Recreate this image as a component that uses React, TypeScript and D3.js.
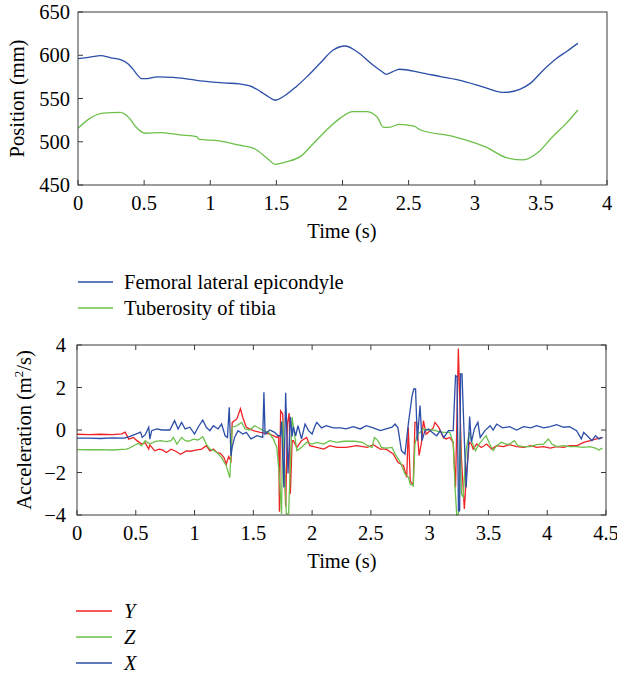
import React from "react";
import * as d3 from "d3";

type P = [number, number];

// ---------- Top chart data (time s, position mm) ----------
const femoral: P[] = [
  [0, 596], [0.05, 597], [0.1, 598], [0.17, 599.5], [0.25, 597], [0.32, 595], [0.38, 590],
  [0.42, 583], [0.45, 577], [0.48, 573], [0.52, 573], [0.6, 575], [0.72, 574.5], [0.85, 572],
  [0.95, 570], [1.1, 568], [1.22, 567], [1.3, 564.5], [1.38, 558], [1.44, 552], [1.49, 548],
  [1.55, 552], [1.65, 563.7], [1.73, 575], [1.83, 590.7], [1.93, 606], [2.02, 610.7],
  [2.11, 604], [2.23, 588.7], [2.3, 581], [2.33, 578], [2.38, 581], [2.43, 583.8], [2.59, 580],
  [2.75, 575], [2.89, 571], [3.09, 562], [3.22, 557], [3.34, 560.6], [3.42, 567.5], [3.52, 583],
  [3.62, 596.5], [3.7, 605], [3.78, 613.8],
];
const tibia: P[] = [
  [0, 515.5], [0.09, 527], [0.19, 533], [0.32, 534], [0.39, 527], [0.44, 516.7], [0.51, 509.8],
  [0.62, 510.5], [0.77, 508], [0.9, 506], [0.91, 503], [1.07, 501], [1.22, 496], [1.33, 492.4],
  [1.43, 481], [1.49, 474], [1.58, 477], [1.68, 482.8], [1.78, 498], [1.88, 513.6], [1.98, 527],
  [2.08, 534.8], [2.18, 534.8], [2.26, 529], [2.31, 516.7], [2.36, 517], [2.43, 520], [2.54, 518],
  [2.59, 513.6], [2.84, 506], [3.09, 493.5], [3.24, 481.6], [3.37, 479], [3.47, 486.6],
  [3.59, 506], [3.69, 521], [3.78, 536.7],
];
const topXTicks = [0, 0.5, 1, 1.5, 2, 2.5, 3, 3.5, 4];
const topYTicks = [450, 500, 550, 600, 650];

// ---------- Bottom chart data (time s, acceleration) ----------
const accY: P[] = [
  [0, -0.2], [0.1, -0.22], [0.2, -0.2], [0.3, -0.22], [0.38, -0.18], [0.41, -0.1], [0.44, -0.43],
  [0.48, -0.35], [0.51, -0.5], [0.55, -0.66], [0.58, -0.6], [0.61, -0.9], [0.62, -0.7], [0.66, -0.98],
  [0.7, -0.9], [0.73, -0.95], [0.76, -1.06], [0.8, -0.9], [0.84, -1.0], [0.88, -1.14], [0.93, -0.98],
  [0.97, -1.0], [1.01, -0.95], [1.06, -0.9], [1.1, -0.74], [1.13, -0.98], [1.16, -0.9], [1.19, -1.06],
  [1.22, -1.1], [1.25, -1.3], [1.27, -1.6], [1.29, -1.25], [1.31, -1.45], [1.32, 0.36], [1.36, 0.52],
  [1.39, 1.0], [1.41, 0.6], [1.44, 0.13], [1.5, -0.03], [1.56, -0.11], [1.64, -0.19], [1.7, -0.35],
  [1.715, -0.3], [1.722, -3.85], [1.732, 0.9], [1.75, 0.75], [1.762, -1.3], [1.775, -3.6], [1.79, 0.3],
  [1.805, 0.8], [1.815, -3.0], [1.83, -0.5], [1.84, -0.5], [1.87, -0.82], [1.91, -0.5], [1.954, -0.35],
  [1.98, -0.74], [2.04, -0.82], [2.1, -0.9], [2.15, -0.74], [2.21, -0.82], [2.29, -0.82], [2.38, -0.74],
  [2.47, -0.82], [2.52, -0.69], [2.58, -0.9], [2.63, -0.9], [2.69, -1.13], [2.73, -1.52], [2.777, -1.68],
  [2.805, -2.23], [2.818, 0.13], [2.835, -2.4], [2.86, -2.6], [2.875, 0.36], [2.89, 0.36], [2.91, -1.2],
  [2.93, -0.6], [2.947, 0.44], [2.97, -0.2], [3.0, -0.05], [3.03, 0.1], [3.045, 0.36], [3.08, 0.1],
  [3.116, -0.35], [3.14, -0.42], [3.17, -0.35], [3.2, -0.58], [3.22, -2.7], [3.244, 3.84], [3.27, -1.29],
  [3.295, -3.72], [3.315, -1.9], [3.337, -0.58], [3.355, -0.66], [3.37, -0.9], [3.4, -0.66], [3.44, -0.82],
  [3.485, -0.66], [3.527, -0.9], [3.57, -0.74], [3.627, -0.78], [3.68, -0.69], [3.74, -0.78], [3.8, -0.82],
  [3.86, -0.74], [3.91, -0.82], [3.97, -0.78], [4.025, -0.85], [4.08, -0.78], [4.14, -0.82], [4.19, -0.74],
  [4.25, -0.74], [4.31, -0.58], [4.365, -0.5], [4.42, -0.42], [4.47, -0.35],
];
const accZ: P[] = [
  [0, -0.92], [0.1, -0.93], [0.2, -0.92], [0.3, -0.94], [0.42, -0.9], [0.44, -0.87], [0.48, -0.74],
  [0.52, -0.63], [0.55, -0.74], [0.58, -0.5], [0.62, -0.66], [0.66, -0.55], [0.71, -0.5], [0.76, -0.55],
  [0.8, -0.5], [0.82, -0.35], [0.85, -0.66], [0.89, -0.35], [0.92, -0.5], [0.95, -0.53], [0.99, -0.43],
  [1.03, -0.47], [1.07, -0.32], [1.1, -0.66], [1.13, -0.9], [1.16, -0.95], [1.19, -1.06], [1.23, -1.3],
  [1.27, -1.69], [1.3, -2.24], [1.32, 0.13], [1.36, 0.2], [1.4, 0.36], [1.43, 0.05], [1.47, 0.0],
  [1.51, 0.2], [1.54, 0.12], [1.585, -0.03], [1.63, -0.11], [1.67, -0.42], [1.7, -0.82], [1.72, -2.07],
  [1.74, -3.95], [1.75, 0.44], [1.762, -0.97], [1.78, -3.95], [1.8, -3.95], [1.83, 0.6], [1.845, 0.0],
  [1.87, -0.97], [1.91, -0.82], [1.954, -0.58], [2.0, -0.66], [2.04, -0.58], [2.1, -0.66], [2.15, -0.5],
  [2.21, -0.58], [2.27, -0.53], [2.36, -0.53], [2.43, -0.58], [2.47, -0.74], [2.51, -0.82], [2.53, -0.35],
  [2.56, -0.5], [2.59, -0.82], [2.63, -0.85], [2.68, -0.82], [2.706, -1.13], [2.75, -1.52], [2.79, -2.07],
  [2.82, -2.23], [2.834, -2.54], [2.86, -2.62], [2.875, -0.66], [2.895, -0.2], [2.92, -0.11], [2.947, 0.05],
  [2.99, 0.0], [3.03, 0.0], [3.074, -0.06], [3.116, -0.11], [3.17, -0.11], [3.2, -0.58], [3.216, -2.7],
  [3.23, -4.0], [3.245, -3.95], [3.26, 0.05], [3.27, -3.0], [3.285, -3.15], [3.31, -0.97], [3.337, -0.11],
  [3.355, -0.5], [3.39, -0.97], [3.42, -0.66], [3.456, -0.42], [3.48, -0.27], [3.51, -0.66], [3.54, -0.97],
  [3.57, -0.74], [3.61, -0.58], [3.65, -0.66], [3.68, -0.66], [3.72, -0.5], [3.75, -0.74], [3.8, -0.78],
  [3.86, -0.78], [3.91, -0.69], [3.97, -0.66], [4.01, -0.42], [4.04, -0.66], [4.08, -0.78], [4.14, -0.74],
  [4.19, -0.78], [4.25, -0.78], [4.31, -0.82], [4.36, -0.78], [4.41, -0.85], [4.44, -0.94], [4.47, -0.85],
];
const accX: P[] = [
  [0, -0.38], [0.1, -0.38], [0.2, -0.4], [0.3, -0.37], [0.4, -0.38], [0.44, -0.32], [0.5, -0.19],
  [0.54, -0.1], [0.555, -0.35], [0.58, -0.22], [0.61, 0.13], [0.62, -0.43], [0.635, -0.03], [0.68, 0.05],
  [0.72, 0.0], [0.79, 0.0], [0.83, 0.44], [0.86, 0.05], [0.89, 0.36], [0.92, 0.05], [0.96, 0.13],
  [1.0, -0.19], [1.03, 0.13], [1.07, 0.47], [1.1, 0.13], [1.13, -0.03], [1.16, 0.2], [1.2, 0.05],
  [1.23, 0.28], [1.26, -0.27], [1.28, -0.35], [1.295, 1.07], [1.31, -1.22], [1.32, -0.82], [1.34, -0.35],
  [1.37, -0.03], [1.41, -0.19], [1.44, -0.11], [1.48, -0.42], [1.53, -0.27], [1.58, -0.35], [1.59, 1.77],
  [1.6, -0.19], [1.64, 0.0], [1.68, -0.11], [1.71, -0.27], [1.73, -0.27], [1.74, 0.4], [1.76, -2.7],
  [1.775, 1.75], [1.795, -2.05], [1.815, 0.62], [1.83, -0.3], [1.84, 0.16], [1.86, -0.27], [1.88, 0.2],
  [1.91, -0.42], [1.94, 0.28], [1.97, -0.03], [2.0, -0.19], [2.025, 0.2], [2.04, 0.36], [2.08, 0.1],
  [2.12, 0.2], [2.18, 0.1], [2.24, 0.1], [2.29, 0.05], [2.35, 0.16], [2.41, 0.05], [2.46, 0.2], [2.52, 0.1],
  [2.58, -0.03], [2.63, 0.05], [2.68, 0.13], [2.706, 0.28], [2.73, 0.1], [2.76, -0.97], [2.79, -1.13],
  [2.82, 0.36], [2.85, 1.6], [2.865, 1.93], [2.88, 1.93], [2.895, -0.5], [2.918, 1.15], [2.935, -0.5],
  [2.96, -0.03], [2.99, 0.05], [3.02, -0.11], [3.06, -0.27], [3.09, -0.03], [3.12, -0.35], [3.16, -0.03],
  [3.2, -0.03], [3.22, 2.56], [3.233, 2.5], [3.245, -3.8], [3.255, -3.8], [3.263, 2.64], [3.275, 2.64],
  [3.29, 0.28], [3.31, -2.7], [3.325, -1.3], [3.34, 0.63], [3.355, -0.58], [3.38, 0.05], [3.41, 0.36],
  [3.43, -0.35], [3.47, -0.03], [3.515, 0.2], [3.54, 0.0], [3.57, 0.28], [3.62, 0.1], [3.68, 0.16],
  [3.74, 0.0], [3.8, 0.16], [3.86, 0.1], [3.91, 0.2], [3.97, 0.1], [4.025, 0.16], [4.08, 0.25],
  [4.14, 0.13], [4.19, 0.16], [4.25, -0.03], [4.29, -0.42], [4.31, -0.11], [4.34, -0.27], [4.38, -0.5],
  [4.41, -0.27], [4.44, -0.42], [4.47, -0.35],
];
const botXTicks = [0, 0.5, 1, 1.5, 2, 2.5, 3, 3.5, 4, 4.5];
const botYTicks = [-4, -2, 0, 2, 4];

const topLegend = ["Femoral lateral epicondyle", "Tuberosity of tibia"];
const botLegend = ["Y", "Z", "X"];

const BLUE = "#2b4ea8";
const GREEN = "#6cc04a";
const RED = "#ee2326";
const AXIS = "#3a3a3a";
const FONT = '"Liberation Serif", "DejaVu Serif", "Times New Roman", serif';
const FS = 20.5;

const fmt = (v: number) => (v < 0 ? "\u2212" + Math.abs(v) : String(v));

export default function App() {
  // top chart scales
  const tx = d3.scaleLinear().domain([0, 4]).range([78, 607]);
  const ty = d3.scaleLinear().domain([450, 650]).range([185, 12]);
  // bottom chart scales
  const bx = d3.scaleLinear().domain([0, 4.5]).range([77, 606]);
  const by = d3.scaleLinear().domain([-4, 4]).range([515, 345]);

  const topLine = d3.line<P>().x((d) => tx(d[0])).y((d) => ty(d[1])).curve(d3.curveMonotoneX);
  const botLine = d3.line<P>().x((d) => bx(d[0])).y((d) => by(d[1]));
  const TL = 5;

  return (
    <svg
      width={617}
      height={676}
      style={{ position: "absolute", left: 0, top: 0, background: "#fff", fontFamily: FONT, fontSize: FS }}
    >
      <defs>
        <clipPath id="clipTop">
          <rect x={78} y={12} width={529} height={173} />
        </clipPath>
        <clipPath id="clipBot">
          <rect x={77} y={344} width={529} height={172} />
        </clipPath>
      </defs>

      {/* ----- Top chart ----- */}
      <g>
        <path d={topLine(femoral)!} fill="none" stroke={BLUE} strokeWidth={1.3} clipPath="url(#clipTop)" />
        <path d={topLine(tibia)!} fill="none" stroke={GREEN} strokeWidth={1.3} clipPath="url(#clipTop)" />
        <rect x={78} y={12} width={529} height={173} fill="none" stroke={AXIS} strokeWidth={1} />
        {topXTicks.map((t) => (
          <g key={"tx" + t}>
            <line x1={tx(t)} x2={tx(t)} y1={185} y2={185 - TL} stroke={AXIS} />
            <text x={tx(t)} y={210} textAnchor="middle">{fmt(t)}</text>
          </g>
        ))}
        {topYTicks.map((v) => (
          <g key={"ty" + v}>
            <line x1={78} x2={78 + TL} y1={ty(v)} y2={ty(v)} stroke={AXIS} />
            <text x={70} y={ty(v) + 7} textAnchor="end">{v}</text>
          </g>
        ))}
        <text x={342} y={238} textAnchor="middle">Time (s)</text>
        <text transform={`translate(24,${(12 + 185) / 2}) rotate(-90)`} textAnchor="middle">Position (mm)</text>
      </g>

      {/* ----- Top legend ----- */}
      {topLegend.map((name, i) => (
        <g key={name}>
          <line x1={78} x2={113} y1={282 + i * 26} y2={282 + i * 26} stroke={i === 0 ? BLUE : GREEN} strokeWidth={1.3} />
          <text x={124} y={289 + i * 26}>{name}</text>
        </g>
      ))}

      {/* ----- Bottom chart ----- */}
      <g>
        <g clipPath="url(#clipBot)">
          <path d={botLine(accY)!} fill="none" stroke={RED} strokeWidth={1.3} />
          <path d={botLine(accZ)!} fill="none" stroke={GREEN} strokeWidth={1.3} />
          <path d={botLine(accX)!} fill="none" stroke={BLUE} strokeWidth={1.3} />
        </g>
        <rect x={77} y={345} width={529} height={170} fill="none" stroke={AXIS} strokeWidth={1} />
        {botXTicks.map((t) => (
          <g key={"bx" + t}>
            <line x1={bx(t)} x2={bx(t)} y1={515} y2={515 - TL} stroke={AXIS} />
            <line x1={bx(t)} x2={bx(t)} y1={345} y2={345 + TL} stroke={AXIS} />
            <text x={bx(t)} y={540} textAnchor="middle">{fmt(t)}</text>
          </g>
        ))}
        {botYTicks.map((v) => (
          <g key={"by" + v}>
            <line x1={77} x2={77 + TL} y1={by(v)} y2={by(v)} stroke={AXIS} />
            <line x1={606} x2={606 - TL} y1={by(v)} y2={by(v)} stroke={AXIS} />
            <text x={66} y={by(v) + 7} textAnchor="end">{fmt(v)}</text>
          </g>
        ))}
        <text x={342} y={568} textAnchor="middle">Time (s)</text>
        <text transform={`translate(31,${(345 + 515) / 2}) rotate(-90)`} textAnchor="middle">
          Acceleration (m<tspan fontSize={13} dy={-8}>2</tspan><tspan dy={8}>/s)</tspan>
        </text>
      </g>

      {/* ----- Bottom legend ----- */}
      {botLegend.map((name, i) => (
        <g key={name}>
          <line x1={76} x2={112} y1={611 + i * 26} y2={611 + i * 26} stroke={[RED, GREEN, BLUE][i]} strokeWidth={1.3} />
          <text x={124} y={618 + i * 26} fontStyle="italic">{name}</text>
        </g>
      ))}
    </svg>
  );
}
